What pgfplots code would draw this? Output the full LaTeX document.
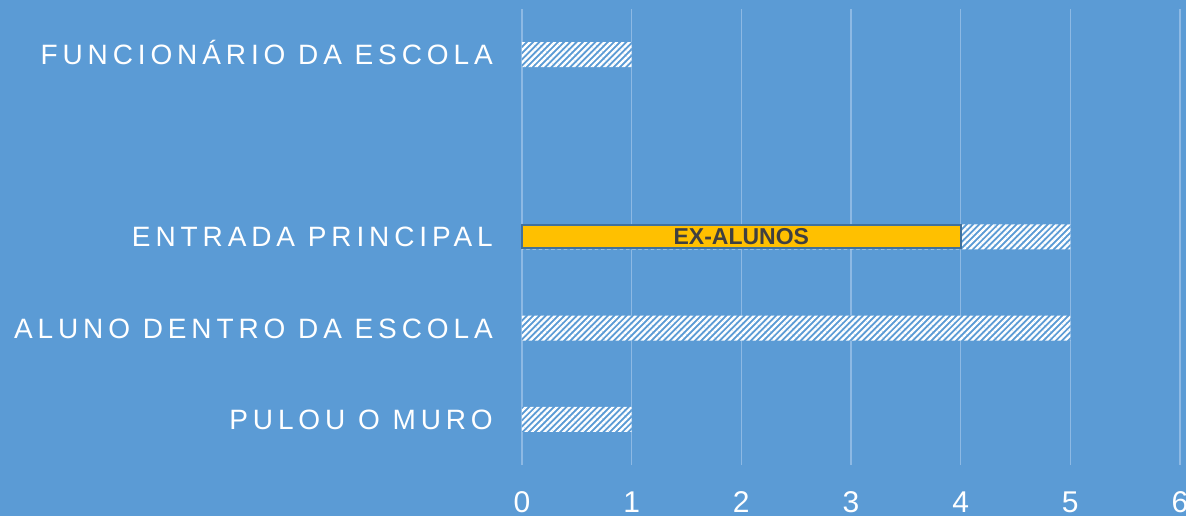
\documentclass[border=0pt]{standalone}
\usepackage{pgfplots}
\pgfplotsset{compat=1.18}
\usepackage{fontspec}
\setmainfont{Liberation Sans}
\newfontfamily\spaced[LetterSpace=17.5]{Liberation Sans}
\usetikzlibrary{patterns.meta}
\definecolor{bg}{HTML}{5B9BD5}
\definecolor{gridc}{HTML}{8DB9E4}
\definecolor{gold}{HTML}{FFC000}
\definecolor{bordc}{HTML}{41719C}
\definecolor{txt}{HTML}{404040}
\begin{document}
\begin{tikzpicture}[x=1pt,y=1pt]
\fill[bg] (0,0) rectangle (1186,516);
\useasboundingbox (0,0) rectangle (1186,516);
\begin{axis}[
  at={(522pt,51pt)}, anchor=south west,
  scale only axis, width=658pt, height=456pt,
  xmin=0, xmax=6, ymin=-0.5, ymax=4.5,
  xtick={0,...,6}, xticklabels={0,1,2,3,4,5,6},
  ytick={0,...,4},
  yticklabels={PULOU O MURO, ALUNO DENTRO DA ESCOLA, ENTRADA PRINCIPAL, {}, FUNCIONÁRIO DA ESCOLA},
  xmajorgrids, major grid style={gridc, line width=1.5pt},
  axis line style={draw=none},
  major tick length=0pt, tick style={draw=none},
  yticklabel style={font=\fontsize{28}{30}\selectfont\spaced, text=white, inner sep=0pt, anchor=base east, xshift=-29pt, yshift=-10pt},
  xticklabel style={font=\fontsize{30}{32}\selectfont, text=white, inner sep=0pt, anchor=base, yshift=-48pt},
  clip=false,
]
\addplot[xbar, bar shift=0pt, bar width=25pt, draw=none, preaction={fill=bg},
  pattern={Lines[angle=45,distance=4.4pt,line width=2.3pt]}, pattern color=white]
  coordinates {(1,0) (5,1) (5,2) (1,4)};
\addplot[xbar, bar shift=0pt, bar width=23pt, fill=gold, draw=bordc, line width=2pt]
  coordinates {(4,2)};
\node[font=\fontsize{23}{25}\selectfont\bfseries, text=txt, inner sep=0pt] at (axis cs:2,2) {EX-ALUNOS};
\end{axis}
\end{tikzpicture}
\end{document}
